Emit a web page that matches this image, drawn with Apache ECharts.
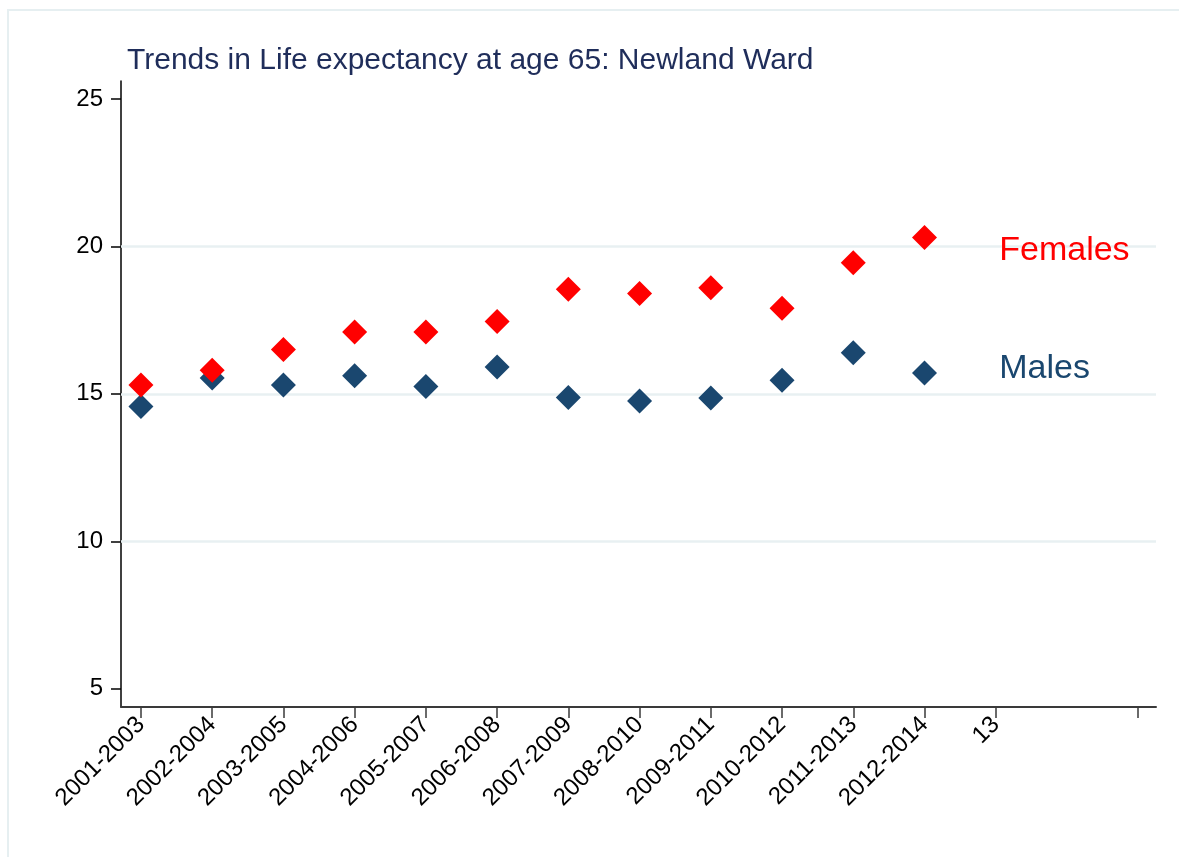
<!DOCTYPE html>
<html>
<head>
<meta charset="utf-8">
<script src="https://cdn.jsdelivr.net/npm/echarts@6/dist/echarts.min.js"></script>
<style>
html,body{margin:0;padding:0;background:#fff;}
#c{width:1179px;height:857px;}
</style>
</head>
<body>
<div id="c"></div>
<script>
// ---- data ----
var periods = ['2001-2003','2002-2004','2003-2005','2004-2006','2005-2007','2006-2008',
               '2007-2009','2008-2010','2009-2011','2010-2012','2011-2013','2012-2014'];
var females = [15.3, 15.8, 16.5, 17.1, 17.1, 17.45, 18.55, 18.4, 18.6, 17.9, 19.45, 20.3];
var males   = [14.57, 15.54, 15.3, 15.61, 15.25, 15.91, 14.88, 14.76, 14.86, 15.46, 16.39, 15.71];
var xTickValues = [1,2,3,4,5,6,7,8,9,10,11,12,13,15];
var xTickLabels = ['2001-2003','2002-2004','2003-2005','2004-2006','2005-2007','2006-2008',
                   '2007-2009','2008-2010','2009-2011','2010-2012','2011-2013','2012-2014','13',''];
var yTickValues = [5, 10, 15, 20, 25];
var gridValues = [10, 15, 20];
var seriesLabels = ['Females', 'Males'];
var labelY = [20, 16];
var labelX = 13;

var FONT = '"Liberation Sans", Arial, sans-serif';
var RED = '#ff0000', NAVY = '#1a476f';

function pts(vals){ return vals.map(function(v,i){ return [i+1, v]; }); }

var chart = echarts.init(document.getElementById('c'), null, {renderer:'canvas'});
chart.setOption({
  animation: false,
  backgroundColor: '#ffffff',
  textStyle: {fontFamily: FONT},
  graphic: [{
    type: 'rect', silent: true, z: -1,
    shape: {x: 8, y: 10, width: 1200, height: 900},
    style: {fill: 'none', stroke: '#e6eff1', lineWidth: 2}
  }],
  title: {
    text: 'Trends in Life expectancy at age 65: Newland Ward',
    left: 122, top: 41,
    textStyle: {fontFamily: FONT, fontSize: 30, fontWeight: 'normal', color: '#1f2d5a'}
  },
  grid: {left: 121, top: 81, right: 23, bottom: 150, containLabel: false},
  xAxis: {
    type: 'value', min: 0.72, max: 15.25,
    axisLine: {show: true, onZero: false, lineStyle: {color: '#3a3a3a', width: 2}},
    axisTick: {show: true, length: 11, customValues: xTickValues, lineStyle: {color: '#3a3a3a', width: 1.5}},
    axisLabel: {
      customValues: xTickValues, rotate: 45, margin: 14,
      fontFamily: FONT, fontSize: 24, color: '#000',
      formatter: function(v){ var i = xTickValues.indexOf(Math.round(v)); return i >= 0 ? xTickLabels[i] : ''; }
    },
    splitLine: {show: false}
  },
  yAxis: {
    type: 'value', min: 4.38, max: 25.61,
    axisLine: {show: true, onZero: false, lineStyle: {color: '#000', width: 1.5}},
    axisTick: {show: true, length: 10, customValues: yTickValues, lineStyle: {color: '#000', width: 1.5}},
    axisLabel: {customValues: yTickValues, margin: 18, fontFamily: FONT, fontSize: 24, color: '#000'},
    splitLine: {show: false}
  },
  series: [
    {
      name: 'grid', type: 'scatter', data: [], silent: true, z: 1,
      markLine: {
        silent: true, symbol: 'none', label: {show: false}, z: 1,
        lineStyle: {color: '#e8f0f2', width: 2.5, type: 'solid'},
        data: gridValues.map(function(v){ return {yAxis: v}; })
      }
    },
    {
      name: 'Females', type: 'scatter', data: pts(females), z: 4,
      symbol: 'diamond', symbolSize: 25, itemStyle: {color: RED, opacity: 1}
    },
    {
      name: 'Males', type: 'scatter', data: pts(males), z: 3,
      symbol: 'diamond', symbolSize: 25, itemStyle: {color: NAVY, opacity: 1}
    },
    {
      name: 'labels', type: 'scatter', silent: true, symbolSize: 1, z: 10,
      itemStyle: {color: 'rgba(0,0,0,0)', opacity: 1},
      data: seriesLabels.map(function(t, i){
        return {value: [labelX, labelY[i]], name: t,
          label: {show: true, position: 'right', distance: 3, offset: [0, 4], formatter: t,
                  opacity: 1, fontFamily: FONT, fontSize: 34, color: i === 0 ? RED : NAVY}};
      })
    }
  ]
});
</script>
</body>
</html>
